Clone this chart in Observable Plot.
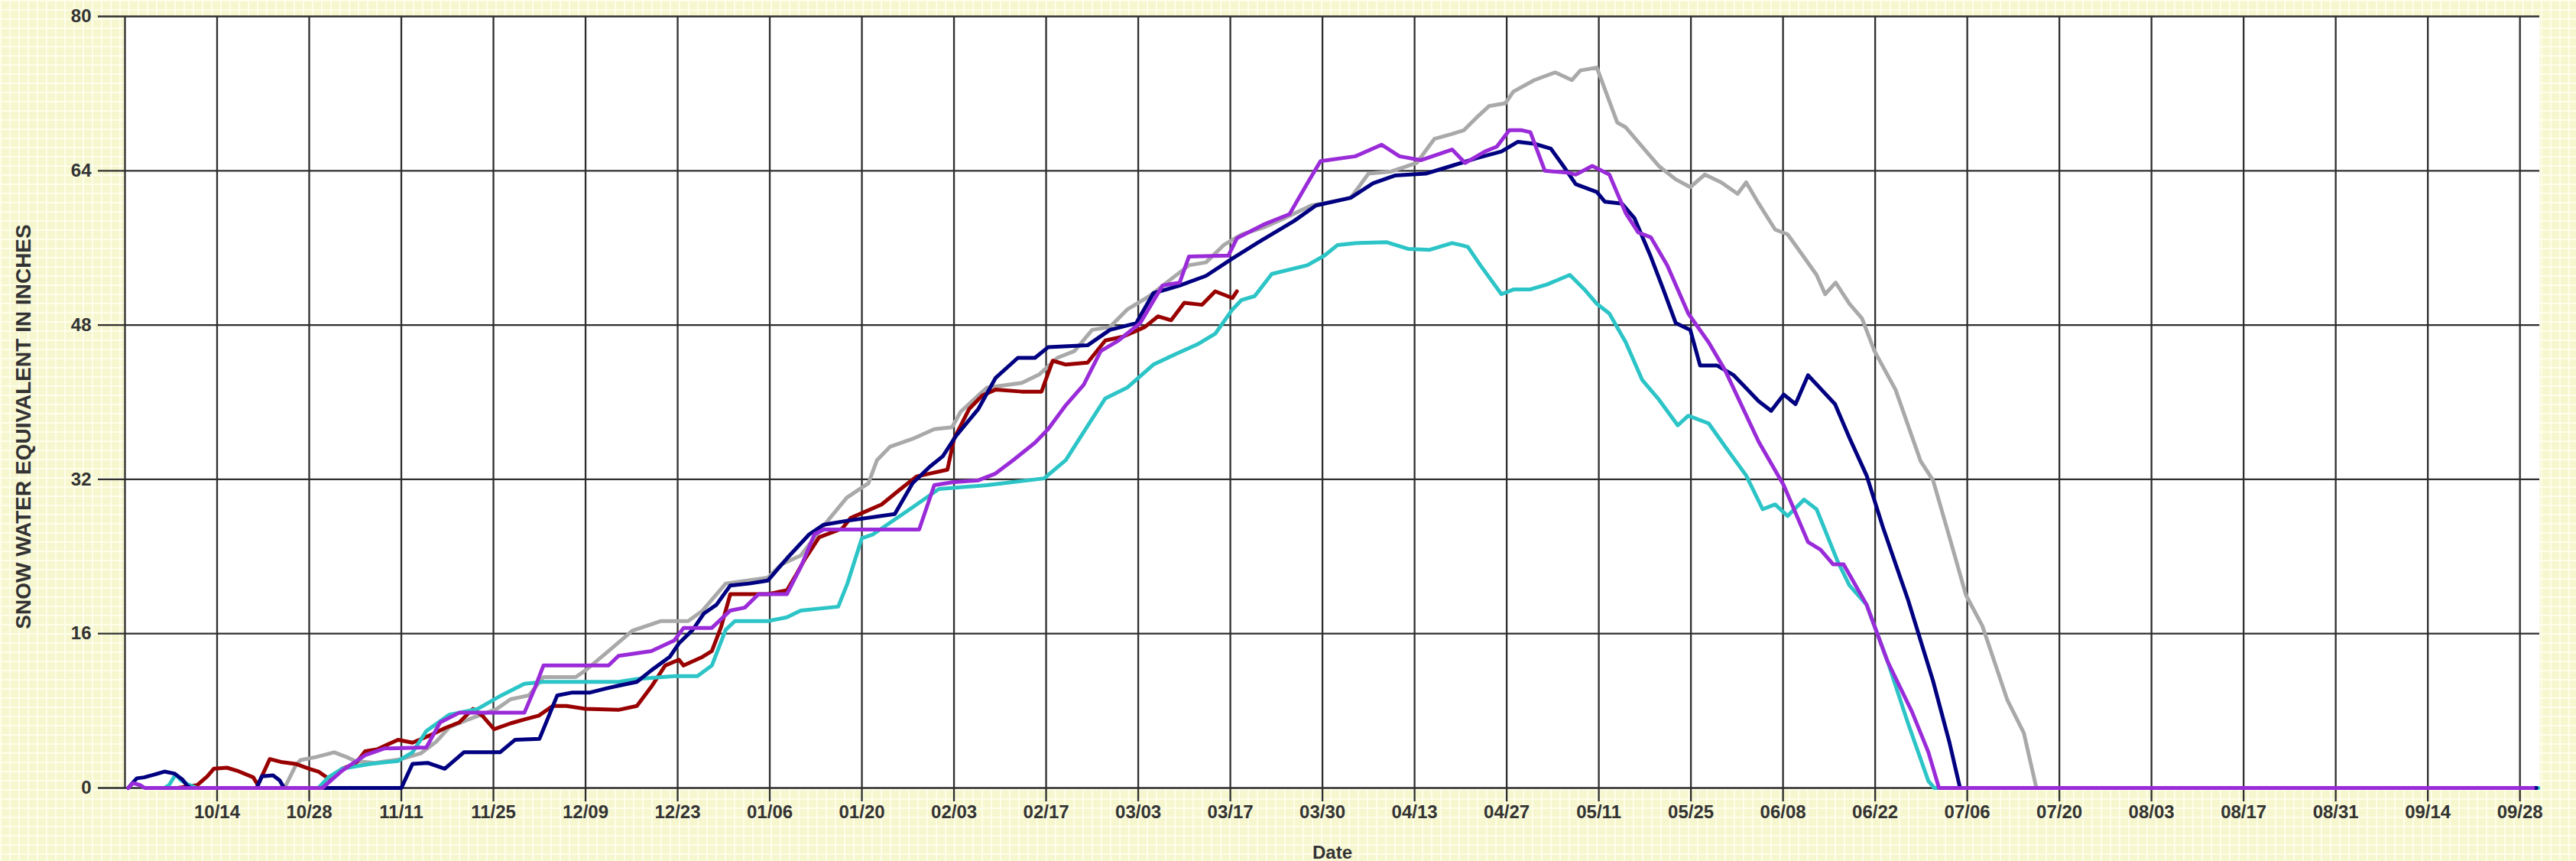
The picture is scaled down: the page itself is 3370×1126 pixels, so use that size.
<!DOCTYPE html>
<html><head><meta charset="utf-8">
<script src="https://cdn.jsdelivr.net/npm/d3@7"></script>
<script src="https://cdn.jsdelivr.net/npm/@observablehq/plot@0.6"></script>
<style>
html,body{margin:0;padding:0;}
body{width:3370px;height:1126px;overflow:hidden;background-color:#F6F6CF;
background-image:linear-gradient(to right, rgba(255,255,238,0.9) 2px, transparent 2px),linear-gradient(to bottom, rgba(255,255,238,0.9) 2px, transparent 2px);
background-size:12px 12px;}
svg{display:block;}
</style></head><body><div id="chart"></div>
<script>
// x = day of water year (Oct 1 ~ day 1), y = snow water equivalent (inches)
const xTickDays = [14,28,42,56,70,84,98,112,126,140,154,168,182,196,210,224,238,252,266,280,294,308,322,336,350,364];
const xTickLabels = ["10/14","10/28","11/11","11/25","12/09","12/23","01/06","01/20","02/03","02/17","03/03","03/17","03/30","04/13","04/27","05/11","05/25","06/08","06/22","07/06","07/20","08/03","08/17","08/31","09/14","09/28"];
const yTicks = [0,16,32,48,64,80];
const xTitle = "Date";
const yTitle = "SNOW WATER EQUIVALENT IN INCHES";

const seriesNames = ["gray","darkred","cyan","navy","purple"];
const seriesColors = ["#A9A9A9","#990000","#2CC4C6","#000080","#9A2BD8"];

const grayData = [[23.5,0],[24.4,0.2],[26,2.4],[26.7,2.9],[29,3.2],[31.8,3.7],[33.7,3.2],[35,2.8],[38,2.6],[42,3.0],[45,3.6],[47.3,4.8],[49.3,6.3],[52.2,7.1],[56.5,8.2],[58.6,9.2],[61.4,9.6],[63.6,11.5],[68.5,11.5],[70,12.2],[73.5,14.2],[77.1,16.3],[81.4,17.3],[85.6,17.3],[87.8,18.4],[91.3,21.2],[97.7,21.8],[99.8,23.2],[102.7,24.1],[106.2,27.2],[109.7,30.1],[113,31.6],[114.3,34],[116.3,35.4],[119.7,36.2],[123,37.2],[125.7,37.4],[127,39],[129.7,40.7],[131,41.5],[136.3,42],[139,42.9],[141.7,44.6],[144.3,45.3],[147,47.5],[149.7,47.8],[152.3,49.6],[155.7,51],[158.3,52.4],[161.7,54.2],[164.3,54.5],[167,56.3],[169.7,57.4],[173,58.1],[176.3,59.1],[180.3,60.4],[184.3,60.9],[186.3,61.2],[189,63.7],[192.3,63.9],[196.3,64.8],[199,67.3],[201.6,67.8],[203.5,68.2],[205.4,69.5],[207.3,70.7],[209.8,71],[211,72.2],[214.2,73.4],[217.4,74.2],[219.9,73.4],[221.2,74.4],[223.7,74.7],[226.8,69],[228.1,68.5],[230.6,66.5],[233.1,64.5],[235.7,63.1],[237.9,62.3],[240.1,63.6],[242.6,62.8],[245.1,61.6],[246.4,62.8],[248.3,60.6],[250.8,57.9],[252.7,57.4],[254.6,55.6],[257.1,53.2],[258.4,51.2],[260,52.4],[262.1,50.2],[264,48.7],[265.9,45.3],[269.1,41.3],[272.9,33.9],[274.8,31.9],[277.3,26],[279.8,20],[282.3,16.8],[286.1,9.1],[288.6,5.7],[290.5,0],[366.5,0]];

const darkredData = [[8,0],[11,0.3],[12.5,1.2],[13.5,2.0],[15.5,2.1],[17,1.8],[19.5,1.1],[20.2,0.3],[21,1.5],[22,3.0],[23.7,2.7],[25.9,2.5],[28,2.0],[29.4,1.7],[31.2,0.85],[33,2.0],[35,2.5],[36.5,3.8],[38.3,4.0],[41.5,5.0],[43.7,4.7],[46.5,5.5],[48.6,6.2],[50.8,6.8],[52.9,8.2],[54.3,7.5],[56.1,6.1],[58.6,6.7],[60.7,7.1],[62.9,7.5],[65,8.5],[67.1,8.5],[70,8.2],[75,8.1],[77.8,8.5],[80,10.5],[82.1,12.7],[84.2,13.3],[84.9,12.7],[87.8,13.6],[89.2,14.2],[90.6,16.7],[92,20.1],[97.7,20.1],[100.6,20.5],[102,22.1],[103.4,23.8],[105.5,26],[109,26.9],[110.3,28],[115,29.4],[117.7,30.9],[120.3,32.3],[122.3,32.6],[125,33],[126,36.2],[128.3,39.3],[130.3,40.7],[132.3,41.3],[136.3,41.1],[139.3,41.1],[141,44.3],[143,43.9],[146.3,44.1],[149,46.4],[151.7,46.8],[155,47.8],[157,48.9],[159,48.5],[161,50.3],[163.7,50.1],[165.7,51.5],[168.3,50.8],[169,51.5]];

const cyanData = [[6,0],[6.7,0.3],[7.7,1.4],[8.5,0.8],[9.5,0.4],[11,0],[29.4,0],[30.9,1.1],[33,2.0],[37.3,2.5],[41.5,2.8],[43.7,3.7],[45.8,5.9],[49.3,7.6],[53.6,8.2],[57.2,9.6],[60.7,10.8],[63.6,11],[75,11],[77.8,11.3],[83.5,11.6],[87,11.6],[89.2,12.7],[91.3,16.4],[92.7,17.3],[97.7,17.3],[100.6,17.7],[102.7,18.4],[108.4,18.8],[109.8,21.2],[112,25.9],[113.7,26.3],[119.7,29.1],[123.7,31],[131,31.4],[139.7,32.1],[143,34],[145.7,36.9],[149,40.4],[152.3,41.5],[156.3,43.9],[159.7,45],[163,46],[165.7,47.1],[168.3,49.6],[169.7,50.6],[171.7,51],[174.3,53.3],[179.7,54.2],[182.3,55.2],[184.3,56.3],[187,56.5],[191.7,56.6],[195,55.9],[198.3,55.8],[201.7,56.5],[203,56.3],[204.1,56.1],[206,54.2],[209.2,51.2],[211.1,51.7],[213.6,51.7],[216.1,52.2],[219.6,53.2],[221.8,51.7],[223.7,50.2],[225.6,49.2],[228.1,46.2],[230.6,42.3],[233.1,40.3],[236,37.6],[237.6,38.6],[240.7,37.8],[243.2,35.4],[246.4,32.4],[248.9,28.9],[250.8,29.4],[252.7,28.2],[255.2,29.9],[257.1,28.9],[260.3,23.5],[262.1,21],[264.7,19],[267.9,13.1],[271,6.7],[274.1,0.7],[275,0],[366.8,0]];

const navyData = [[0.5,0],[1,0.4],[1.8,1.0],[2.9,1.1],[4.5,1.4],[6,1.7],[7.5,1.5],[8.7,0.9],[9.5,0.2],[10,0],[20,0],[20.8,1.2],[22.5,1.3],[23.5,0.8],[24.2,0],[42,0],[43.7,2.5],[46,2.6],[48.6,2.0],[51.5,3.7],[57,3.7],[59.3,5.0],[63,5.1],[65.7,9.6],[68,9.9],[70.7,9.9],[73,10.3],[75,10.6],[77.8,11],[80,12.2],[82.8,13.6],[84.2,15],[86.3,16.4],[88,18.1],[89.9,19],[92,21],[94.9,21.2],[97.7,21.5],[100.6,23.8],[104,26.3],[106.2,27.3],[109.7,27.7],[117,28.4],[119.7,31.6],[122.3,33.3],[124.3,34.4],[126.3,36.5],[129.7,39.3],[132.3,42.5],[135.7,44.6],[138.3,44.6],[140.3,45.7],[146.3,45.9],[149.7,47.5],[153.7,48.2],[156.3,51.3],[160.3,52.1],[164.3,53.1],[168.3,54.9],[172.3,56.6],[177.7,58.8],[181,60.4],[186.3,61.2],[189.7,62.7],[193,63.5],[197.7,63.7],[201.6,64.5],[205.4,65.3],[209.2,66],[211.7,67],[214.2,66.8],[216.7,66.3],[218.6,64.5],[220.5,62.6],[223.7,61.8],[224.9,60.8],[227.5,60.6],[229.4,59.1],[231.9,55.1],[233.8,51.7],[235.7,48.2],[237.9,47.5],[239.4,43.8],[242,43.8],[244.5,42.8],[248.3,40.1],[250.2,39.1],[252.1,40.8],[253.9,39.8],[255.8,42.8],[259.9,39.8],[262.1,36.3],[264.7,32.4],[267.2,27],[271,19.5],[274.8,11.1],[277.3,4.7],[278.9,0],[366.5,0]];

const purpleData = [[0.5,0],[1.2,0.5],[2.3,0.3],[3,0],[30,0],[33,1.8],[36.5,3.4],[39.4,4.1],[45.8,4.2],[47.9,6.8],[50.8,7.8],[60.7,7.8],[62.2,10.2],[63.6,12.7],[73.5,12.7],[75,13.7],[80,14.2],[83.5,15.3],[84.9,16.6],[89.2,16.6],[92,18.4],[94.2,18.7],[96.3,20.1],[100.6,20.1],[102.7,22.9],[104.8,26.3],[106.2,26.8],[120.7,26.8],[123,31.4],[125.7,31.7],[129.7,31.9],[132.3,32.6],[135,34],[138.3,35.8],[140.3,37.2],[143,39.7],[145.7,41.8],[148.3,45.3],[151,46.4],[154.3,48.2],[157.7,52.1],[160.3,52.4],[161.7,55.1],[167.7,55.2],[169,57],[173,58.4],[177,59.5],[179.7,62.7],[181.7,65],[187,65.5],[191,66.7],[193.7,65.5],[197,65.1],[201.7,66.2],[203.7,64.8],[206.7,66],[208.5,66.5],[210.4,68.2],[212.3,68.2],[213.6,68],[215.8,64],[219.3,63.8],[220.5,63.6],[223,64.5],[225.6,63.6],[228.1,59.6],[230,57.6],[231.9,57.1],[234.4,54.2],[237.6,49.2],[240.7,46.2],[243.2,43.3],[248.3,35.9],[252.1,31.4],[255.8,25.5],[257.7,24.7],[259.6,23.2],[261.2,23.2],[264.7,19],[267.9,13.1],[271.6,7.9],[274.1,3.7],[275.7,0],[366,0]];

const seriesData = [grayData, darkredData, cyanData, navyData, purpleData];
const rows = seriesNames.map((name, i) => seriesData[i].map(([day, swe]) => ({series: name, day, swe})));
const labelByDay = new Map(xTickDays.map((d, i) => [d, xTickLabels[i]]));

const gridColor = "#2E2E2E";
const chart = Plot.plot({
  width: 3370, height: 1126,
  marginLeft: 163, marginRight: 48, marginTop: 21, marginBottom: 96,
  style: {background: "transparent", fontFamily: "'Liberation Sans', Arial, sans-serif", fontSize: "24px", fontWeight: "bold", color: "#333333", overflow: "visible"},
  x: {domain: [0, 367]},
  y: {domain: [0, 80]},
  marks: [
    Plot.frame({fill: "white", stroke: "none"}),
    Plot.ruleX(xTickDays, {stroke: gridColor, strokeWidth: 2.3}),
    Plot.ruleY(yTicks, {stroke: gridColor, strokeWidth: 2.3}),
    Plot.ruleX([0], {stroke: gridColor, strokeWidth: 2.3}),
    Plot.axisX(xTickDays, {tickSize: 18, tickPadding: 4, tickFormat: d => labelByDay.get(d), stroke: gridColor, strokeWidth: 2.3, fontSize: 24, fontWeight: "bold",
      label: xTitle, labelAnchor: "center", labelArrow: "none", labelOffset: 92}),
    Plot.axisY(yTicks, {tickSize: 35, tickPadding: 9, stroke: gridColor, strokeWidth: 2.3, fontSize: 24, fontWeight: "bold", label: null}),
    Plot.text([yTitle], {frameAnchor: "left", rotate: -90, dx: -132, dy: 32, text: d => d, fontSize: 28, fontWeight: "bold", fill: "#333333", textAnchor: "middle", lineAnchor: "middle"}),
    ...rows.map((r, i) => Plot.line(r, {x: "day", y: "swe", stroke: seriesColors[i], strokeWidth: 5, strokeLinejoin: "round", strokeLinecap: "round"}))
  ]
});
document.getElementById("chart").appendChild(chart);
</script></body></html>
